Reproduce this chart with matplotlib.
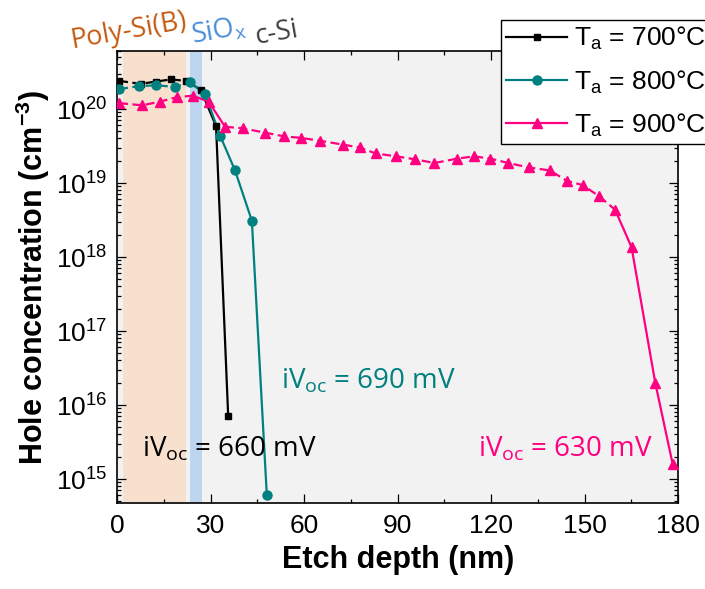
import matplotlib
matplotlib.use("Agg")
import matplotlib.pyplot as plt
from matplotlib.lines import Line2D
from matplotlib.ticker import LogLocator, MultipleLocator, NullFormatter

plt.rcParams['font.family'] = ['Liberation Sans', 'DejaVu Sans']
plt.rcParams['mathtext.fontset'] = 'custom'
plt.rcParams['mathtext.rm'] = 'Liberation Sans'
plt.rcParams['mathtext.it'] = 'Liberation Sans:italic'
plt.rcParams['mathtext.bf'] = 'Liberation Sans:bold'

# ---------------- data ----------------
depth_700 = [0.6, 7.5, 12.3, 17.2, 22.1, 26.8, 31.7, 35.6]
logN_700 = [20.38, 20.34, 20.37, 20.40, 20.38, 20.26, 19.77, 15.85]
dash_end_700 = 4   # index where dashed part ends

depth_800 = [0.6, 7.1, 12.4, 18.5, 23.4, 28.2, 33.0, 37.8, 43.2, 48.0]
logN_800 = [20.27, 20.31, 20.32, 20.30, 20.36, 20.20, 19.64, 19.17, 18.49, 14.78]
dash_end_800 = 4

depth_900 = [0.6, 8.0, 13.7, 19.1, 24.2, 29.3, 34.6, 40.2, 47.5, 53.6, 59.0,
             65.2, 72.3, 77.8, 82.9, 89.6, 95.7, 101.8, 109.1, 114.5, 119.8,
             125.5, 132.2, 138.9, 144.3, 149.5, 154.7, 159.8, 165.1, 172.7, 178.3]
logN_900 = [20.08, 20.05, 20.10, 20.16, 20.18, 20.10, 19.76, 19.74, 19.68, 19.63, 19.61,
            19.57, 19.52, 19.48, 19.40, 19.36, 19.32, 19.27, 19.33, 19.36, 19.33,
            19.27, 19.21, 19.17, 19.03, 18.97, 18.82, 18.64, 18.13, 16.30, 15.20]
# segments (start, end index, style) for 900
segs_900 = [(0, 4, 'dash'), (4, 6, 'solid'), (6, 27, 'dash'), (27, 30, 'solid')]

labels = ['T$_{\\mathregular{a}}$ = 700°C', 'T$_{\\mathregular{a}}$ = 800°C',
          'T$_{\\mathregular{a}}$ = 900°C']
colors = ['#000000', '#00807F', '#FF0080']

x_ticks = [0, 30, 60, 90, 120, 150, 180]

regions = [(1.9, 22.1, '#F8E0CF'), (23.2, 27.1, '#BDD5EE')]

annot = [('iV$_{\\mathregular{oc}}$ = 660 mV', 7.9, 15.30, '#000000'),
         ('iV$_{\\mathregular{oc}}$ = 690 mV', 52.5, 16.22, '#00807F'),
         ('iV$_{\\mathregular{oc}}$ = 630 mV', 115.7, 15.30, '#FF0080')]

# ---------------- figure ----------------
W, H = 705, 589
fig = plt.figure(figsize=(W / 100, H / 100), dpi=100)
ax = fig.add_axes([117.3 / W, 1 - 503 / H, (678 - 117.3) / W, (503 - 51) / H])
ax.set_facecolor('#F2F2F2')

for x0, x1, c in regions:
    ax.axvspan(x0, x1, color=c, lw=0, zorder=0)

def pw(v):
    return [10 ** a for a in v]

lw = 1.6
dash = (0, (4, 2))

def draw_series(xs, ys, segs, color, marker, ms):
    yv = pw(ys)
    for s, e, st in segs:
        ax.plot(xs[s:e + 1], yv[s:e + 1], color=color, lw=lw,
                ls=dash if st == 'dash' else '-', zorder=2)
    ax.plot(xs, yv, ls='none', marker=marker, ms=ms, color=color,
            mec=color, zorder=3)

draw_series(depth_700, logN_700,
            [(0, dash_end_700, 'dash'), (dash_end_700, len(depth_700) - 1, 'solid')],
            colors[0], 's', 5)
draw_series(depth_800, logN_800,
            [(0, dash_end_800, 'dash'), (dash_end_800, len(depth_800) - 1, 'solid')],
            colors[1], 'o', 6.5)
draw_series(depth_900, logN_900, segs_900, colors[2], '^', 7.5)

ax.set_xlim(0, 180)
ax.set_ylim(10 ** 14.676, 10 ** 20.784)
ax.set_yscale('log')
ax.set_xticks(x_ticks)
ax.xaxis.set_minor_locator(MultipleLocator(15))
ax.yaxis.set_major_locator(LogLocator(base=10, numticks=20))
ax.yaxis.set_minor_locator(LogLocator(base=10, subs=range(2, 10), numticks=20))
ax.yaxis.set_minor_formatter(NullFormatter())

ax.tick_params(which='both', direction='in', top=True, right=True, width=0.9,
               labelsize=19, colors='black')
ax.tick_params(which='major', length=6.5)
ax.tick_params(which='minor', length=3)
ax.tick_params(axis='x', pad=8)
ax.tick_params(axis='y', pad=7)
for sp in ax.spines.values():
    sp.set_linewidth(1.2)

ax.set_xlabel('Etch depth (nm)', fontsize=22, fontweight='bold', labelpad=5)
ax.set_ylabel('Hole concentration (cm$^{\\mathbf{-3}}$)', fontsize=22,
              fontweight='bold', labelpad=3)

for txt, x, y, c in annot:
    ax.text(x, 10 ** y, txt, color=c, fontsize=20, family='Open Sans',
            ha='left', va='baseline')

# top layer labels
top_kw = dict(fontsize=19.5, family='Open Sans', rotation=10,
              rotation_mode='anchor', ha='left', va='baseline')
fig.text(72 / W, 1 - 48 / H, 'Poly-Si(B)', color='#C55A11', **top_kw)
fig.text(193 / W, 1 - 44 / H, 'SiO$_{\\mathregular{x}}$', color='#4A8FD8', **top_kw)
fig.text(257 / W, 1 - 44 / H, 'c-Si', color='#404040', **top_kw)

handles = [Line2D([], [], color=colors[0], lw=lw, marker='s', ms=5),
           Line2D([], [], color=colors[1], lw=lw, marker='o', ms=6.5),
           Line2D([], [], color=colors[2], lw=lw, marker='^', ms=7.5)]
leg = fig.legend(handles, labels, loc='upper left',
                 bbox_to_anchor=(501 / W, 1 - 20 / H),
                 bbox_transform=fig.transFigure, fontsize=19, frameon=True,
                 fancybox=False, edgecolor='black', framealpha=1,
                 borderpad=0.2, borderaxespad=0, handlelength=2.3,
                 handletextpad=0.25, labelspacing=0.6)
leg.get_frame().set_linewidth(1.0)

fig.savefig('out.png', dpi=100)
